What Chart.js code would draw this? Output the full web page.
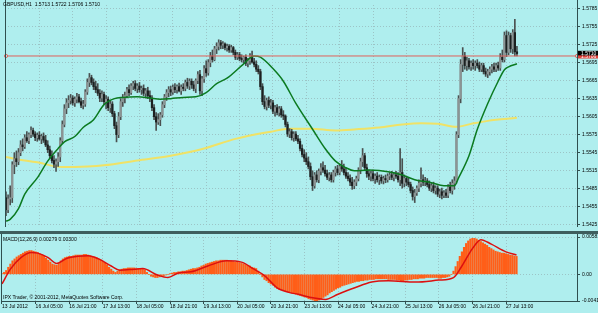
<!DOCTYPE html>
<html>
<head>
<meta charset="utf-8">
<script src="https://cdn.jsdelivr.net/npm/chart.js@4.4.1/dist/chart.umd.min.js"></script>
<style>
  html, body { margin: 0; padding: 0; background: #afeeee; }
  #wrap { position: relative; width: 598px; height: 313px; overflow: hidden; background: #afeeee; }
  #priceCanvas { position: absolute; left: 0; top: 0; }
  #macdCanvas { position: absolute; left: 0; top: 232px; }
  #sep { position: absolute; left: 0; top: 231px; width: 598px; height: 3px; background: #3e5e5e; }
</style>
</head>
<body>
<div id="wrap">
  <canvas id="priceCanvas" width="598" height="232"></canvas>
  <canvas id="macdCanvas" width="598" height="81"></canvas>
  <div id="sep"></div>
</div>
<script>
// GBPUSD H1, one entry per hourly bar (13 Jul 13:00 .. 27 Jul 18:00)
const opens = [
  1.5470,1.5450,1.5468,1.5470,1.5525,1.5535,1.5530,1.5545,1.5558,1.5555,1.5570,1.5565,1.5575,1.5582,1.5576,1.5570,
  1.5574,1.5568,1.5572,1.5566,1.5558,1.5550,1.5540,1.5532,1.5526,1.5530,1.5538,1.5565,1.5592,1.5618,1.5628,1.5632,
  1.5636,1.5628,1.5634,1.5638,1.5630,1.5624,1.5626,1.5646,1.5662,1.5670,1.5662,1.5655,1.5650,1.5644,1.5636,1.5642,
  1.5630,1.5634,1.5620,1.5626,1.5610,1.5590,1.5575,1.5605,1.5630,1.5636,1.5640,1.5650,1.5645,1.5656,1.5660,1.5652,
  1.5656,1.5650,1.5652,1.5644,1.5648,1.5640,1.5636,1.5620,1.5605,1.5596,1.5600,1.5608,1.5625,1.5638,1.5645,1.5650,
  1.5646,1.5654,1.5650,1.5655,1.5648,1.5654,1.5652,1.5662,1.5656,1.5664,1.5658,1.5652,1.5665,1.5675,1.5648,1.5668,
  1.5685,1.5678,1.5695,1.5706,1.5700,1.5718,1.5722,1.5728,1.5724,1.5726,1.5720,1.5722,1.5716,1.5720,1.5712,1.5704,
  1.5708,1.5702,1.5700,1.5704,1.5694,1.5698,1.5706,1.5696,1.5692,1.5684,1.5680,1.5655,1.5630,1.5622,1.5632,1.5624,
  1.5628,1.5614,1.5620,1.5612,1.5618,1.5608,1.5606,1.5592,1.5576,1.5580,1.5570,1.5576,1.5568,1.5564,1.5552,1.5542,
  1.5536,1.5530,1.5522,1.5505,1.5490,1.5508,1.5500,1.5514,1.5520,1.5516,1.5510,1.5504,1.5508,1.5500,1.5512,1.5518,
  1.5512,1.5522,1.5518,1.5512,1.5506,1.5502,1.5496,1.5490,1.5496,1.5502,1.5516,1.5530,1.5540,1.5520,1.5510,1.5506,
  1.5510,1.5502,1.5506,1.5500,1.5504,1.5498,1.5502,1.5500,1.5506,1.5508,1.5504,1.5508,1.5506,1.5500,1.5512,1.5494,
  1.5502,1.5496,1.5492,1.5482,1.5472,1.5478,1.5486,1.5494,1.5500,1.5496,1.5498,1.5492,1.5486,1.5490,1.5482,1.5486,
  1.5476,1.5480,1.5474,1.5478,1.5474,1.5488,1.5482,1.5494,1.5498,1.5575,1.5635,1.5692,1.5706,1.5690,1.5698,1.5688,
  1.5694,1.5690,1.5694,1.5690,1.5684,1.5690,1.5680,1.5676,1.5680,1.5684,1.5688,1.5684,1.5690,1.5686,1.5704,1.5700,
  1.5740,1.5712,1.5740,1.5718,1.5745,1.5713
];
const highs = [
  1.5480,1.5475,1.5490,1.5530,1.5545,1.5548,1.5552,1.5565,1.5568,1.5575,1.5580,1.5578,1.5588,1.5586,1.5580,1.5578,
  1.5580,1.5576,1.5578,1.5574,1.5565,1.5556,1.5548,1.5540,1.5535,1.5545,1.5570,1.5598,1.5625,1.5635,1.5640,1.5642,
  1.5640,1.5638,1.5644,1.5642,1.5636,1.5632,1.5650,1.5668,1.5677,1.5674,1.5668,1.5664,1.5660,1.5650,1.5648,1.5646,
  1.5640,1.5638,1.5632,1.5630,1.5614,1.5596,1.5612,1.5635,1.5642,1.5646,1.5654,1.5658,1.5660,1.5664,1.5665,1.5660,
  1.5662,1.5656,1.5658,1.5652,1.5654,1.5648,1.5640,1.5625,1.5612,1.5610,1.5612,1.5630,1.5642,1.5650,1.5655,1.5656,
  1.5658,1.5660,1.5658,1.5661,1.5658,1.5660,1.5666,1.5669,1.5668,1.5668,1.5664,1.5668,1.5680,1.5682,1.5672,1.5690,
  1.5698,1.5700,1.5712,1.5716,1.5722,1.5728,1.5733,1.5732,1.5730,1.5728,1.5726,1.5725,1.5724,1.5722,1.5716,1.5712,
  1.5712,1.5708,1.5706,1.5708,1.5702,1.5710,1.5714,1.5702,1.5698,1.5690,1.5684,1.5660,1.5640,1.5636,1.5638,1.5634,
  1.5632,1.5624,1.5625,1.5622,1.5622,1.5615,1.5608,1.5596,1.5585,1.5584,1.5580,1.5580,1.5574,1.5568,1.5558,1.5550,
  1.5545,1.5538,1.5528,1.5515,1.5512,1.5515,1.5518,1.5527,1.5530,1.5524,1.5516,1.5512,1.5512,1.5516,1.5522,1.5524,
  1.5526,1.5532,1.5526,1.5520,1.5512,1.5508,1.5504,1.5500,1.5506,1.5520,1.5536,1.5552,1.5544,1.5526,1.5516,1.5514,
  1.5516,1.5510,1.5512,1.5508,1.5508,1.5506,1.5508,1.5510,1.5512,1.5514,1.5512,1.5514,1.5512,1.5552,1.5535,1.5508,
  1.5506,1.5504,1.5496,1.5488,1.5484,1.5490,1.5500,1.5520,1.5508,1.5504,1.5502,1.5498,1.5494,1.5496,1.5490,1.5490,
  1.5484,1.5486,1.5482,1.5484,1.5492,1.5496,1.5500,1.5505,1.5580,1.5640,1.5700,1.5720,1.5712,1.5704,1.5702,1.5698,
  1.5700,1.5698,1.5700,1.5696,1.5694,1.5694,1.5686,1.5684,1.5688,1.5692,1.5694,1.5694,1.5696,1.5710,1.5716,1.5746,
  1.5748,1.5746,1.5744,1.5750,1.5767,1.5722
];
const lows = [
  1.5440,1.5445,1.5458,1.5462,1.5510,1.5522,1.5525,1.5540,1.5548,1.5552,1.5562,1.5560,1.5570,1.5572,1.5565,1.5564,
  1.5566,1.5560,1.5562,1.5555,1.5545,1.5535,1.5528,1.5520,1.5514,1.5522,1.5530,1.5560,1.5588,1.5610,1.5620,1.5626,
  1.5624,1.5622,1.5628,1.5628,1.5620,1.5618,1.5622,1.5642,1.5655,1.5658,1.5650,1.5645,1.5640,1.5630,1.5630,1.5625,
  1.5618,1.5615,1.5612,1.5605,1.5585,1.5563,1.5570,1.5600,1.5622,1.5628,1.5636,1.5640,1.5642,1.5650,1.5648,1.5645,
  1.5646,1.5642,1.5640,1.5636,1.5635,1.5630,1.5615,1.5600,1.5582,1.5592,1.5590,1.5604,1.5620,1.5632,1.5638,1.5640,
  1.5642,1.5645,1.5644,1.5646,1.5642,1.5648,1.5648,1.5652,1.5650,1.5652,1.5648,1.5645,1.5660,1.5642,1.5640,1.5662,
  1.5672,1.5674,1.5688,1.5696,1.5698,1.5710,1.5716,1.5718,1.5718,1.5716,1.5714,1.5712,1.5712,1.5708,1.5700,1.5700,
  1.5698,1.5696,1.5694,1.5690,1.5688,1.5692,1.5694,1.5688,1.5680,1.5676,1.5650,1.5625,1.5618,1.5616,1.5620,1.5618,
  1.5610,1.5606,1.5608,1.5606,1.5604,1.5600,1.5588,1.5572,1.5570,1.5566,1.5564,1.5565,1.5560,1.5548,1.5538,1.5530,
  1.5525,1.5518,1.5500,1.5482,1.5486,1.5496,1.5495,1.5508,1.5512,1.5506,1.5500,1.5498,1.5496,1.5496,1.5506,1.5508,
  1.5508,1.5514,1.5508,1.5502,1.5498,1.5490,1.5484,1.5485,1.5490,1.5498,1.5510,1.5522,1.5515,1.5504,1.5500,1.5498,
  1.5498,1.5494,1.5496,1.5492,1.5494,1.5493,1.5495,1.5496,1.5500,1.5500,1.5498,1.5502,1.5496,1.5490,1.5486,1.5488,
  1.5490,1.5488,1.5478,1.5466,1.5462,1.5474,1.5480,1.5488,1.5490,1.5490,1.5488,1.5482,1.5480,1.5478,1.5476,1.5472,
  1.5470,1.5468,1.5470,1.5470,1.5470,1.5478,1.5476,1.5484,1.5494,1.5570,1.5628,1.5680,1.5684,1.5682,1.5684,1.5682,
  1.5684,1.5682,1.5686,1.5680,1.5680,1.5676,1.5672,1.5670,1.5674,1.5678,1.5680,1.5680,1.5682,1.5682,1.5696,1.5696,
  1.5705,1.5708,1.5712,1.5710,1.5706,1.5706
];
const closes = [
  1.5450,1.5468,1.5470,1.5525,1.5535,1.5530,1.5545,1.5558,1.5555,1.5570,1.5565,1.5575,1.5582,1.5576,1.5570,1.5574,
  1.5568,1.5572,1.5566,1.5558,1.5550,1.5540,1.5532,1.5526,1.5530,1.5538,1.5565,1.5592,1.5618,1.5628,1.5632,1.5636,
  1.5628,1.5634,1.5638,1.5630,1.5624,1.5626,1.5646,1.5662,1.5670,1.5662,1.5655,1.5650,1.5644,1.5636,1.5642,1.5630,
  1.5634,1.5620,1.5626,1.5610,1.5590,1.5575,1.5605,1.5630,1.5636,1.5640,1.5650,1.5645,1.5656,1.5660,1.5652,1.5656,
  1.5650,1.5652,1.5644,1.5648,1.5640,1.5636,1.5620,1.5605,1.5596,1.5600,1.5608,1.5625,1.5638,1.5645,1.5650,1.5646,
  1.5654,1.5650,1.5655,1.5648,1.5654,1.5652,1.5662,1.5656,1.5664,1.5658,1.5652,1.5665,1.5675,1.5648,1.5668,1.5685,
  1.5678,1.5695,1.5706,1.5700,1.5718,1.5722,1.5728,1.5724,1.5726,1.5720,1.5722,1.5716,1.5720,1.5712,1.5704,1.5708,
  1.5702,1.5700,1.5704,1.5694,1.5698,1.5706,1.5696,1.5692,1.5684,1.5680,1.5655,1.5630,1.5622,1.5632,1.5624,1.5628,
  1.5614,1.5620,1.5612,1.5618,1.5608,1.5606,1.5592,1.5576,1.5580,1.5570,1.5576,1.5568,1.5564,1.5552,1.5542,1.5536,
  1.5530,1.5522,1.5505,1.5490,1.5508,1.5500,1.5514,1.5520,1.5516,1.5510,1.5504,1.5508,1.5500,1.5512,1.5518,1.5512,
  1.5522,1.5518,1.5512,1.5506,1.5502,1.5496,1.5490,1.5496,1.5502,1.5516,1.5530,1.5540,1.5520,1.5510,1.5506,1.5510,
  1.5502,1.5506,1.5500,1.5504,1.5498,1.5502,1.5500,1.5506,1.5508,1.5504,1.5508,1.5506,1.5500,1.5512,1.5494,1.5502,
  1.5496,1.5492,1.5482,1.5472,1.5478,1.5486,1.5494,1.5500,1.5496,1.5498,1.5492,1.5486,1.5490,1.5482,1.5486,1.5476,
  1.5480,1.5474,1.5478,1.5474,1.5488,1.5482,1.5494,1.5498,1.5575,1.5635,1.5692,1.5706,1.5690,1.5698,1.5688,1.5694,
  1.5690,1.5694,1.5690,1.5684,1.5690,1.5680,1.5676,1.5680,1.5684,1.5688,1.5684,1.5690,1.5686,1.5704,1.5700,1.5740,
  1.5712,1.5740,1.5718,1.5745,1.5713,1.5710
];

// moving averages at bar positions
const fastMaBars = [0,2,6,9,15,20,25,28,33,37,42,47,52,56,63,69,74,79,85,91,96,101,106,114,119,122,128,133,139,147,153,158,163,167,174,184,190,196,204,210,215,217,222,226,231,236,239,241,245];
const fastMaValues = [1.5431,1.5434,1.5452,1.5476,1.5503,1.5531,1.5552,1.5563,1.5572,1.5587,1.5600,1.5625,1.5635,1.5637,1.5638,1.5636,1.5634,1.5635,1.5637,1.5638,1.5645,1.5660,1.5669,1.5693,1.5706,1.5704,1.5685,1.5664,1.5627,1.5584,1.5552,1.5531,1.5520,1.5515,1.5516,1.5513,1.5508,1.5500,1.5495,1.5490,1.5490,1.5503,1.5540,1.5584,1.5627,1.5664,1.5683,1.5688,1.5693];
const slowMaBars = [0,4,15,27,39,47,63,79,95,110,127,136,146,158,168,179,190,199,207,216,223,231,245];
const slowMaValues = [1.5538,1.5535,1.5529,1.5521,1.5522,1.5524,1.5532,1.5540,1.5552,1.5568,1.5580,1.5585,1.5585,1.5582,1.5584,1.5587,1.5592,1.5594,1.5593,1.5588,1.5593,1.5598,1.5603];

// MACD(12,26,9): main value per bar, signal line read at bar positions
const macdMain = [
  0.0001,0.0003,0.0006,0.0011,0.0016,0.0021,0.0024,0.0027,0.0029,0.0031,0.0033,0.0035,0.0036,0.0037,0.0037,0.0036,
  0.0035,0.0034,0.0032,0.0030,0.0028,0.0025,0.0022,0.0019,0.0016,0.0015,0.0014,0.0017,0.0021,0.0024,0.0026,0.0027,
  0.0028,0.0028,0.0029,0.0030,0.0030,0.0030,0.0030,0.0031,0.0031,0.0030,0.0029,0.0028,0.0027,0.0026,0.0024,0.0022,
  0.0020,0.0018,0.0015,0.0011,0.0008,0.0005,0.0003,0.0005,0.0007,0.0008,0.0009,0.0009,0.0010,0.0010,0.0010,0.0010,
  0.0009,0.0009,0.0008,0.0008,0.0007,0.0003,0.0000,-0.0003,-0.0004,-0.0005,-0.0005,-0.0004,-0.0003,-0.0002,-0.0001,0.0000,
  0.0001,0.0002,0.0003,0.0003,0.0004,0.0004,0.0005,0.0005,0.0006,0.0007,0.0008,0.0009,0.0009,0.0010,0.0011,0.0013,
  0.0014,0.0016,0.0017,0.0018,0.0019,0.0020,0.0021,0.0021,0.0022,0.0022,0.0022,0.0022,0.0021,0.0021,0.0020,0.0019,
  0.0019,0.0018,0.0017,0.0016,0.0015,0.0014,0.0013,0.0011,0.0010,0.0009,0.0005,0.0000,-0.0004,-0.0008,-0.0010,-0.0013,
  -0.0015,-0.0017,-0.0020,-0.0022,-0.0023,-0.0024,-0.0025,-0.0026,-0.0027,-0.0028,-0.0029,-0.0030,-0.0031,-0.0032,-0.0033,-0.0034,
  -0.0035,-0.0036,-0.0038,-0.0039,-0.0040,-0.0041,-0.0041,-0.0040,-0.0038,-0.0036,-0.0034,-0.0032,-0.0029,-0.0027,-0.0025,-0.0023,
  -0.0021,-0.0020,-0.0018,-0.0017,-0.0016,-0.0015,-0.0014,-0.0013,-0.0012,-0.0011,-0.0011,-0.0010,-0.0010,-0.0009,-0.0009,-0.0008,
  -0.0008,-0.0008,-0.0007,-0.0007,-0.0007,-0.0007,-0.0007,-0.0007,-0.0008,-0.0008,-0.0008,-0.0008,-0.0009,-0.0009,-0.0010,-0.0010,
  -0.0009,-0.0009,-0.0008,-0.0008,-0.0007,-0.0007,-0.0007,-0.0006,-0.0006,-0.0006,-0.0005,-0.0005,-0.0005,-0.0005,-0.0005,-0.0005,
  -0.0006,-0.0006,-0.0005,-0.0005,-0.0004,-0.0003,0.0000,0.0005,0.0012,0.0020,0.0028,0.0035,0.0042,0.0048,0.0052,0.0055,
  0.0056,0.0056,0.0055,0.0053,0.0051,0.0049,0.0047,0.0045,0.0042,0.0040,0.0038,0.0036,0.0035,0.0034,0.0033,0.0033,
  0.0032,0.0031,0.0030,0.00295,0.00285,0.00279
];
const signalBars = [0,4,9,14,17,22,26,31,36,41,46,52,56,63,67,74,79,84,90,98,107,114,120,125,131,137,141,147,154,160,168,176,184,197,208,215,219,224,228,233,240,245];
const signalValues = [-0.0015,0.0008,0.0026,0.0034,0.0033,0.0026,0.0017,0.0025,0.0028,0.0029,0.0024,0.0013,0.00065,0.0008,0.0009,-0.0001,-0.0005,0.0002,0.0004,0.0013,0.0021,0.0019,0.0008,-0.0002,-0.0021,-0.00285,-0.0031,-0.0036,-0.0039,-0.0031,-0.0021,-0.0012,-0.0010,-0.0012,-0.0009,-0.0005,0.0013,0.0040,0.0054,0.0047,0.0035,0.0030];

// axes
const tickBars = [0,16,32,48,64,80,96,112,128,144,160,176,192,208,224,240];
const timeLabels = ['13 Jul 2012','16 Jul 05:00','16 Jul 21:00','17 Jul 13:00','18 Jul 05:00','18 Jul 21:00','19 Jul 13:00','20 Jul 05:00','20 Jul 21:00','23 Jul 13:00','24 Jul 05:00','24 Jul 21:00','25 Jul 13:00','26 Jul 05:00','26 Jul 21:00','27 Jul 13:00'];
const priceTicks = [1.5425,1.5455,1.5485,1.5515,1.5545,1.5575,1.5605,1.5635,1.5665,1.5695,1.5725,1.5755,1.5785];
const macdTicks = [-0.00415,0,0.00581];
const macdTickLabels = ['-0.00415','0.00','0.00581'];
const hLineLevel = 1.5706;
const lastBid = 1.5710;

const X_MIN = -0.476, X_MAX = 273.8;
const BG = '#afeeee';
const FRAME = '#2f4f4f';
const GRID = '#9cc4c6';
const FONT = '5px "Liberation Sans", Arial, sans-serif';
const tickFont = { family: '"Liberation Sans", Arial, sans-serif', size: 5 };

const bars = closes.map((c, i) => i);
const setTicks = values => scale => { scale.ticks = values.map(v => ({ value: v })); };
const points = (xs, ys) => xs.map((x, k) => ({ x: x, y: ys[k] }));

const framePlugin = {
    id: 'frame',
    afterDraw(chart, args, opts) {
        const { ctx, chartArea: a } = chart;
        ctx.save();
        ctx.strokeStyle = FRAME;
        ctx.lineWidth = 1;
        ctx.beginPath();
        ctx.moveTo(Math.round(a.left) + 0.5, 0);
        ctx.lineTo(Math.round(a.left) + 0.5, a.bottom);
        ctx.moveTo(Math.round(a.right) + 0.5, 0);
        ctx.lineTo(Math.round(a.right) + 0.5, a.bottom);
        if (opts.bottom) {
            ctx.moveTo(a.left, Math.round(a.bottom) + 0.5);
            ctx.lineTo(a.right + 1, Math.round(a.bottom) + 0.5);
        }
        ctx.stroke();
        ctx.restore();
    }
};

// texts and price boxes of the main window
const priceText = {
    id: 'priceText',
    afterDraw(chart) {
        const { ctx, chartArea: a } = chart;
        const y = chart.scales.y;
        ctx.save();
        ctx.font = FONT;
        ctx.textBaseline = 'middle';
        ctx.fillStyle = '#000';
        ctx.fillText('GBPUSD,H1  1.5713 1.5722 1.5706 1.5710', 3, 5);

        const yLine = y.getPixelForValue(hLineLevel);
        ctx.fillStyle = '#e0403a';
        ctx.fillRect(a.right + 1, yLine - 2.5, 20, 5);
        ctx.fillStyle = '#fff';
        ctx.fillText(hLineLevel.toFixed(4), a.right + 4, yLine + 0.5);

        const yBid = y.getPixelForValue(lastBid);
        ctx.fillStyle = '#000';
        ctx.fillRect(a.right + 1, yBid - 2.8, 20, 4.6);
        ctx.fillStyle = '#fff';
        ctx.fillText(lastBid.toFixed(4), a.right + 4, yBid - 0.3);
        ctx.restore();
    }
};

const macdText = {
    id: 'macdText',
    afterDraw(chart) {
        const { ctx } = chart;
        ctx.save();
        ctx.font = FONT;
        ctx.textBaseline = 'middle';
        ctx.fillStyle = '#000';
        ctx.fillText('MACD(12,26,9) 0.00279 0.00300', 3, 8);
        ctx.fillText('IPX Trader, \u00a9 2001-2012, MetaQuotes Software Corp.', 3, 66);
        ctx.restore();
    }
};

new Chart(document.getElementById('priceCanvas'), {
    type: 'bar',
    data: {
        datasets: [
            {
                type: 'line',
                data: points(slowMaBars, slowMaValues),
                borderColor: '#f0e266',
                borderWidth: 2,
                pointRadius: 0,
                cubicInterpolationMode: 'monotone',
                order: 5
            },
            {
                type: 'bar',
                data: bars.map(i => ({ x: i, y: [lows[i], highs[i]] })),
                backgroundColor: '#4a5050',
                barThickness: 1,
                grouped: false,
                order: 3
            },
            {
                type: 'bar',
                data: bars.map(i => ({ x: i, y: [opens[i], closes[i]] })),
                backgroundColor: bars.map(i => closes[i] >= opens[i] ? '#8c9494' : '#1c2020'),
                barThickness: 1.6,
                minBarLength: 1,
                grouped: false,
                order: 2
            },
            {
                type: 'line',
                data: points(fastMaBars, fastMaValues),
                borderColor: '#0b7a20',
                borderWidth: 1.5,
                pointRadius: 0,
                cubicInterpolationMode: 'monotone',
                order: 1
            },
            {
                type: 'line',
                data: [{ x: X_MIN + 0.5, y: hLineLevel }, { x: X_MAX, y: hLineLevel }],
                borderColor: '#e0605a',
                borderWidth: 1,
                pointRadius: 1.6,
                pointBackgroundColor: BG,
                pointBorderColor: '#e0605a',
                pointBorderWidth: 1,
                clip: 4,
                order: 0
            }
        ]
    },
    options: {
        responsive: false,
        animation: false,
        devicePixelRatio: 1,
        layout: { padding: { left: 1, top: 1, right: 0, bottom: 1 } },
        plugins: { legend: { display: false }, tooltip: { enabled: false }, frame: { bottom: false } },
        scales: {
            x: {
                type: 'linear', min: X_MIN, max: X_MAX, offset: false,
                afterBuildTicks: setTicks(tickBars),
                afterFit: s => { s.height = 0; },
                ticks: { display: false },
                grid: { color: GRID, drawTicks: false, offset: false },
                border: { display: false, dash: [1, 2] }
            },
            y: {
                position: 'right', min: 1.54213, max: 1.57909,
                afterBuildTicks: setTicks(priceTicks),
                afterFit: s => { s.width = 21; },
                ticks: { font: tickFont, color: '#000', padding: 2, autoSkip: false, callback: v => v.toFixed(4) },
                grid: { color: GRID, tickColor: FRAME, tickLength: 3 },
                border: { display: false, dash: [1, 2] }
            }
        }
    },
    plugins: [framePlugin, priceText]
});

new Chart(document.getElementById('macdCanvas'), {
    type: 'bar',
    data: {
        datasets: [
            {
                type: 'bar',
                data: bars.map(i => ({ x: i, y: macdMain[i] })),
                backgroundColor: '#ff5e18',
                barThickness: 1.5,
                grouped: false,
                order: 2
            },
            {
                type: 'line',
                data: points(signalBars, signalValues),
                borderColor: '#dc1010',
                borderWidth: 1.5,
                pointRadius: 0,
                cubicInterpolationMode: 'monotone',
                order: 1
            }
        ]
    },
    options: {
        responsive: false,
        animation: false,
        devicePixelRatio: 1,
        layout: { padding: { left: 1, top: 4, right: 0, bottom: 0 } },
        plugins: { legend: { display: false }, tooltip: { enabled: false }, frame: { bottom: true } },
        scales: {
            x: {
                type: 'linear', min: X_MIN, max: X_MAX, offset: false,
                afterBuildTicks: setTicks(tickBars),
                afterFit: s => { s.height = 12; },
                ticks: {
                    font: tickFont, color: '#000', padding: 0, align: 'start', autoSkip: false,
                    maxRotation: 0, callback: v => timeLabels[tickBars.indexOf(v)]
                },
                grid: { color: GRID, tickColor: FRAME, tickLength: 3, offset: false },
                border: { display: false, dash: [1, 2] }
            },
            y: {
                position: 'right', min: -0.00415, max: 0.00581,
                afterBuildTicks: setTicks(macdTicks),
                afterFit: s => { s.width = 21; },
                ticks: { font: tickFont, color: '#000', padding: 2, autoSkip: false, callback: v => macdTickLabels[macdTicks.indexOf(v)] },
                grid: { color: GRID, tickColor: FRAME, tickLength: 3 },
                border: { display: false, dash: [1, 2] }
            }
        }
    },
    plugins: [framePlugin, macdText]
});
</script>
</body>
</html>
